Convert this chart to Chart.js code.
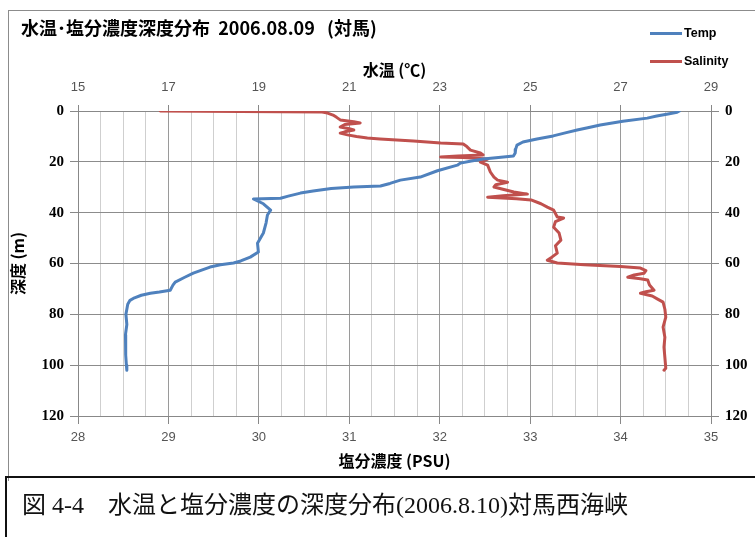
<!DOCTYPE html>
<html>
<head>
<meta charset="utf-8">
<script src="https://cdn.jsdelivr.net/npm/chart.js@4.4.1/dist/chart.umd.min.js"></script>
<style>
  html, body { margin: 0; padding: 0; background: #fff; width: 755px; height: 537px; overflow: hidden; position: relative; }
  #frame { position: absolute; left: 8px; top: 10px; width: 800px; height: 470px; border-left: 1px solid #8c8c8c; border-top: 1px solid #8c8c8c; }
  #chart { position: absolute; left: 0; top: 0; }
  #title { position: absolute; left: 21px; top: 16px; font: bold 18px "Noto Sans CJK JP", sans-serif; white-space: pre; color: #000; line-height: 22px; }
  .legline { position: absolute; left: 650px; width: 32px; height: 3px; }
  .legtxt { position: absolute; left: 684px; font: bold 12.5px "Liberation Sans", sans-serif; line-height: 14px; color: #000; }
  #caption { position: absolute; left: 5px; top: 476px; width: 800px; height: 100px; border: 2px solid #111; box-sizing: border-box; }
  #caption div { position: absolute; left: 15px; top: 12px; font: 24px "Liberation Serif", "Noto Sans CJK JP", serif; line-height: 30px; white-space: pre; color: #111; }
</style>
</head>
<body>
<div id="frame"></div>
<canvas id="chart" width="755" height="478"></canvas>
<div id="title">水温･塩分濃度深度分布  2006.08.09   (対馬)</div>
<div class="legline" style="top:32px;background:#4F81BD"></div>
<div class="legtxt" style="top:26px">Temp</div>
<div class="legline" style="top:60px;background:#C0504D"></div>
<div class="legtxt" style="top:54px">Salinity</div>
<div id="caption"><div>図 4-4　水温と塩分濃度の深度分布(2006.8.10)対馬西海峡</div></div>

<script>
// Temperature profile (°C) against depth (m)
const tempDepth = [0, 0.5, 1.2, 2.0, 2.8, 4.0, 5.5, 6.5, 7.5, 8.5, 9.8, 11.0, 12.2, 13.4, 15.0, 16.5, 17.7,
  18.3, 18.9, 19.7, 20.5, 21.3, 23.5, 26.0, 27.2, 28.5, 29.5, 29.9, 30.5, 31.5, 32.3, 33.5, 34.3, 34.6,
  36.5, 39.0, 40.9, 44.0, 48.0, 52.0, 55.5, 57.5, 59.0, 59.8, 60.5, 61.4, 62.5, 63.8, 65.5, 67.3, 68.5,
  70.5, 71.2, 71.7, 72.5, 73.5, 74.5, 76.0, 78.0, 80.0, 84.0, 88.0, 92.0, 96.0, 100.0, 102.0];
const tempValues = [28.30, 28.25, 28.05, 27.80, 27.59, 27.05, 26.55, 26.30, 26.04, 25.80, 25.51, 25.15, 24.84, 24.71, 24.68, 24.67, 24.63,
  24.30, 23.96, 23.70, 23.46, 23.39, 22.95, 22.57, 22.13, 21.90, 21.69, 21.10, 20.60, 20.20, 19.92, 19.65, 19.48, 18.88,
  19.10, 19.26, 19.19, 19.16, 19.10, 18.97, 18.99, 18.81, 18.60, 18.44, 18.15, 17.92, 17.75, 17.55, 17.35, 17.15, 17.10,
  17.04, 16.80, 16.60, 16.40, 16.25, 16.15, 16.10, 16.08, 16.06, 16.08, 16.05, 16.06, 16.05, 16.07, 16.08];

// Salinity profile (PSU) against depth (m)
const salDepth = [0, 0.2, 0.4, 0.8, 1.6, 2.5, 3.5, 4.2, 4.7, 5.3, 6.3, 7.0, 7.5, 8.2, 8.7, 9.4, 10.0, 10.6,
  11.0, 11.8, 12.6, 13.0, 14.0, 15.4, 16.5, 17.3, 17.7, 18.1, 18.3, 18.9, 20.1, 21.3, 24.0, 26.0, 27.2, 28.0,
  29.0, 29.9, 31.0, 31.9, 32.7, 33.3, 33.9, 34.5, 35.0, 36.5, 37.8, 39.0, 41.7, 42.1, 43.5, 45.7, 48.0, 50.8,
  53.0, 55.9, 57.5, 58.7, 59.8, 60.5, 61.2, 61.8, 62.8, 63.8, 64.5, 65.4, 66.0, 66.5, 68.5, 70.5, 71.1, 71.7,
  72.8, 74.0, 75.2, 78.0, 81.1, 85.0, 89.0, 92.9, 97.0, 101.2, 102.0];
const salValues = [28.91, 29.80, 30.70, 30.76, 30.82, 30.86, 30.90, 31.05, 31.12, 30.95, 30.90, 31.00, 31.05, 30.95, 30.90, 30.98, 31.08, 31.20,
  31.34, 31.71, 32.01, 32.26, 32.30, 32.34, 32.45, 32.48, 32.20, 32.01, 32.26, 32.53, 32.45, 32.53, 32.56, 32.60, 32.64, 32.75,
  32.62, 32.60, 32.72, 32.82, 32.97, 32.70, 32.53, 32.85, 33.01, 33.12, 33.19, 33.26, 33.30, 33.37, 33.28, 33.26, 33.32, 33.34,
  33.28, 33.30, 33.24, 33.19, 33.30, 33.60, 34.00, 34.22, 34.28, 34.26, 34.15, 34.08, 34.22, 34.30, 34.32, 34.37, 34.28, 34.22,
  34.35, 34.41, 34.47, 34.49, 34.50, 34.47, 34.49, 34.48, 34.49, 34.50, 34.48];

// Axis ranges and tick steps
const tempAxis = { min: 15, max: 29, step: 2 };
const salAxis = { min: 28, max: 35, step: 0.25 };
const depthAxis = { min: 0, max: 120, step: 20 };

const toPoints = (xs, ys) => xs.map((x, i) => ({ x: x, y: ys[i] }));
const isWhole = v => Math.abs(v - Math.round(v)) < 1e-6;

const sideTickFont = { family: '"Liberation Serif", serif', size: 15, weight: 'bold' };
const edgeTickFont = { family: '"Liberation Sans Narrow", "Liberation Sans", sans-serif', size: 13 };
const axisTitleFont = { family: '"Noto Sans CJK JP", sans-serif', size: 16, weight: 'bold' };

new Chart(document.getElementById('chart'), {
  type: 'scatter',
  data: {
    datasets: [
      {
        label: 'Temp',
        data: toPoints(tempValues, tempDepth),
        xAxisID: 'xT', yAxisID: 'y',
        showLine: true, borderColor: '#4F81BD', backgroundColor: '#4F81BD',
        borderWidth: 3, pointRadius: 0, borderJoinStyle: 'round', borderCapStyle: 'round'
      },
      {
        label: 'Salinity',
        data: toPoints(salValues, salDepth),
        xAxisID: 'xS', yAxisID: 'y',
        showLine: true, borderColor: '#C0504D', backgroundColor: '#C0504D',
        borderWidth: 3, pointRadius: 0, borderJoinStyle: 'round', borderCapStyle: 'round'
      }
    ]
  },
  options: {
    responsive: false,
    animation: false,
    devicePixelRatio: 1,
    layout: { padding: 0 },
    plugins: { legend: { display: false }, tooltip: { enabled: false } },
    scales: {
      xT: {
        type: 'linear', position: 'top',
        min: tempAxis.min, max: tempAxis.max,
        ticks: { stepSize: tempAxis.step, font: edgeTickFont, color: '#555', padding: 10, maxRotation: 0 },
        grid: { drawOnChartArea: false, tickLength: 6, tickColor: '#888' },
        border: { color: '#888' },
        title: { display: true, text: '水温 (℃)', font: axisTitleFont, color: '#000', padding: { top: 60, bottom: 0 } },
        afterFit: s => { s.height = 111; }
      },
      xS: {
        type: 'linear', position: 'bottom',
        min: salAxis.min, max: salAxis.max,
        ticks: {
          stepSize: salAxis.step, autoSkip: false, maxRotation: 0,
          font: edgeTickFont, color: '#555', padding: 6,
          callback: v => isWhole(v) ? String(Math.round(v)) : ''
        },
        grid: {
          color: c => isWhole(c.tick.value) ? '#9a9a9a' : '#cfcfcf',
          tickColor: c => isWhole(c.tick.value) ? '#888' : 'rgba(0,0,0,0)',
          tickLength: 8
        },
        border: { color: '#888' },
        title: { display: true, text: '塩分濃度 (PSU)', font: axisTitleFont, color: '#000', padding: { top: 0, bottom: 7 } },
        afterFit: s => { s.height = 62; }
      },
      y: {
        type: 'linear', position: 'left', reverse: true,
        min: depthAxis.min, max: depthAxis.max,
        ticks: { stepSize: depthAxis.step, font: sideTickFont, color: '#000', padding: 6 },
        grid: { color: '#8c8c8c', tickColor: '#888', tickLength: 8 },
        border: { color: '#888' },
        title: { display: true, text: '深度 (m)', font: axisTitleFont, color: '#000', padding: { top: 8, bottom: 0 } },
        afterFit: s => { s.width = 78; }
      },
      y2: {
        type: 'linear', position: 'right', reverse: true,
        min: depthAxis.min, max: depthAxis.max,
        ticks: { stepSize: depthAxis.step, font: sideTickFont, color: '#000', padding: 6 },
        grid: { drawOnChartArea: false, tickColor: '#888', tickLength: 8 },
        border: { color: '#888' },
        afterFit: s => { s.width = 44; }
      }
    }
  }
});
</script>
</body>
</html>
